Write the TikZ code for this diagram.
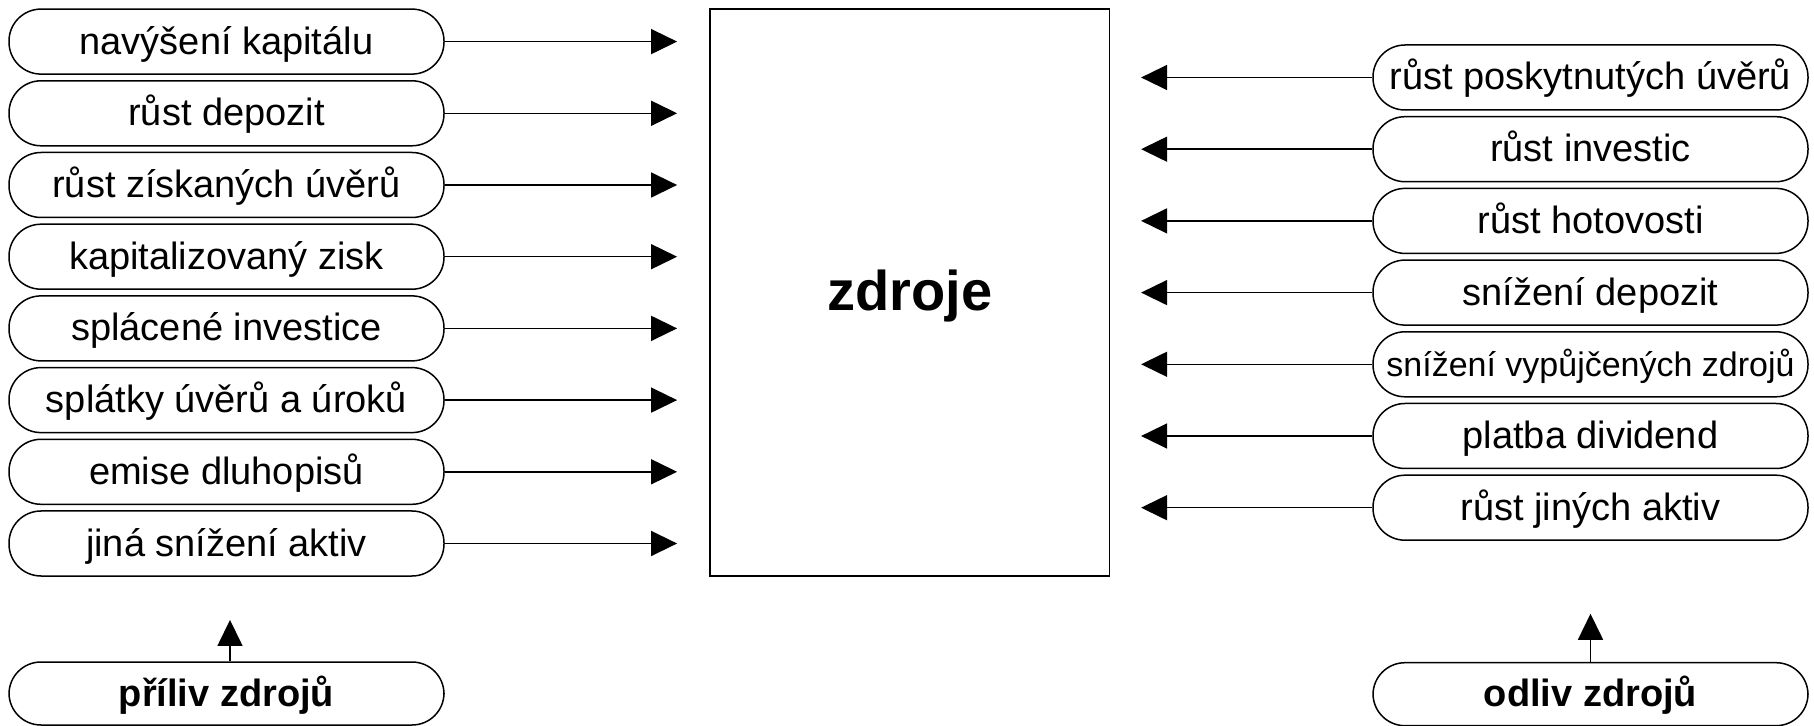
\documentclass[tikz,border=0pt]{standalone}
\usepackage{fontspec}
\setmainfont{Liberation Sans}
\usetikzlibrary{positioning,arrows.meta}

\begin{document}
\begin{tikzpicture}[line width=0.75pt,
    node distance=2.6pt,
    item/.style={draw, rounded corners=16pt, minimum width=217.5pt,
      minimum height=32.5pt, inner sep=0pt,
      text height=16.3pt, text depth=3.8pt,
      font=\fontsize{19pt}{22pt}\selectfont},
    small/.style={font=\fontsize{17pt}{20pt}\selectfont},
    total/.style={item, minimum height=31.5pt,
      font=\fontsize{19pt}{22pt}\selectfont\bfseries},
    flow/.style={-{Triangle[length=13pt,width=12.5pt]}}]
    \useasboundingbox (0,0) rectangle (907pt,-363pt);

    % centre
    \node[draw, minimum width=199.75pt, minimum height=283.5pt,
      text height=24.1pt, text depth=5.6pt,
      font=\fontsize{28pt}{32pt}\selectfont\bfseries]
      (src) at (454.9pt,-146.25pt) {zdroje};

    % inflow of resources
    \node[item] (in_1) at (113.25pt,-20.8pt) {navýšení kapitálu};
    \node[item] (in_2) [below=of in_1] {růst depozit};
    \node[item] (in_3) [below=of in_2] {růst získaných úvěrů};
    \node[item] (in_4) [below=of in_3] {kapitalizovaný zisk};
    \node[item] (in_5) [below=of in_4] {splácené investice};
    \node[item] (in_6) [below=of in_5] {splátky úvěrů a úroků};
    \node[item] (in_7) [below=of in_6] {emise dluhopisů};
    \node[item] (in_8) [below=of in_7] {jiná snížení aktiv};
    \node[total] (inflow) [below=42.25pt of in_8] {příliv zdrojů};

    % outflow of resources
    \node[item] (out_1) at (795.25pt,-38.75pt) {růst poskytnutých úvěrů};
    \node[item] (out_2) [below=of out_1] {růst investic};
    \node[item] (out_3) [below=of out_2] {růst hotovosti};
    \node[item] (out_4) [below=of out_3] {snížení depozit};
    \node[item, small] (out_5) [below=of out_4] {snížení vypůjčených zdrojů};
    \node[item] (out_6) [below=of out_5] {platba dividend};
    \node[item] (out_7) [below=of out_6] {růst jiných aktiv};
    \node[total] (outflow) [below=60.5pt of out_7] {odliv zdrojů};

    \path[flow, shorten >=16.1pt]
    (in_1.east) edge (in_1.east -| src.west)
    (in_2.east) edge (in_2.east -| src.west)
    (in_3.east) edge (in_3.east -| src.west)
    (in_4.east) edge (in_4.east -| src.west)
    (in_5.east) edge (in_5.east -| src.west)
    (in_6.east) edge (in_6.east -| src.west)
    (in_7.east) edge (in_7.east -| src.west)
    (in_8.east) edge (in_8.east -| src.west);

    \path[flow, shorten >=15.4pt]
    (out_1.west) edge (out_1.west -| src.east)
    (out_2.west) edge (out_2.west -| src.east)
    (out_3.west) edge (out_3.west -| src.east)
    (out_4.west) edge (out_4.west -| src.east)
    (out_5.west) edge (out_5.west -| src.east)
    (out_6.west) edge (out_6.west -| src.east)
    (out_7.west) edge (out_7.west -| src.east);

    \path[flow]
    ([xshift=1.75pt]inflow.north) edge [shorten >=21.6pt] ([xshift=1.75pt]in_8.south)
    (outflow.north) edge [shorten >=36.4pt] (out_7.south);
\end{tikzpicture}
\end{document}
